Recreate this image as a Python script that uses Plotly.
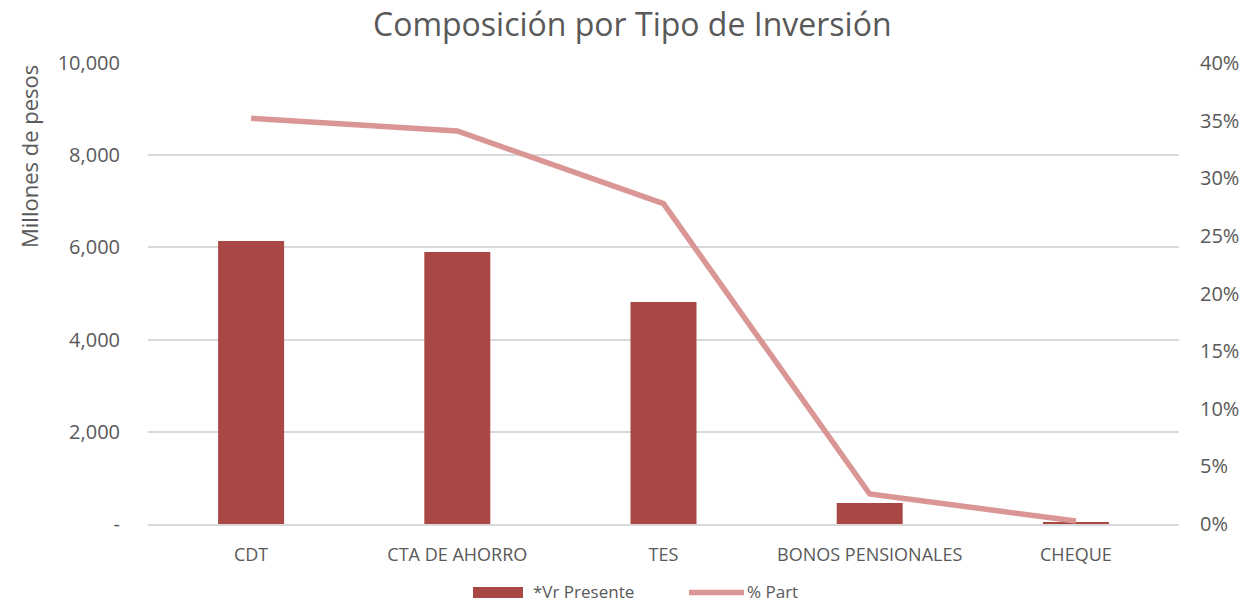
import plotly.graph_objects as go

categories = ["CDT", "CTA DE AHORRO", "TES", "BONOS PENSIONALES", "CHEQUE"]
vr_presente = [6140, 5900, 4816, 455, 45]
pct_part = [0.352, 0.341, 0.278, 0.026, 0.0026]

left_ticks = [0, 2000, 4000, 6000, 8000, 10000]
left_labels = ["-", "2,000", "4,000", "6,000", "8,000", "10,000"]
right_ticks = [0, 0.05, 0.10, 0.15, 0.20, 0.25, 0.30, 0.35, 0.40]

FONT = "Open Sans"
GRAY = "#595959"
BAR_COLOR = "#A84743"
LINE_COLOR = "#D99694"
W, H = 1252, 602
PL, PR, PT, PB = 148, 1179, 63, 524


def fx(p):
    return (p - PL) / (PR - PL)


def fy(p):
    return (PB - p) / (PB - PT)


fig = go.Figure()
fig.add_trace(go.Bar(
    x=categories, y=vr_presente, name="*Vr Presente",
    marker=dict(color=BAR_COLOR, line=dict(width=0)),
    width=0.32, yaxis="y", showlegend=False,
))
fig.add_trace(go.Scatter(
    x=categories, y=pct_part, name="% Part", mode="lines",
    line=dict(color=LINE_COLOR, width=5.5), yaxis="y2", showlegend=False,
))

# custom legend drawn in paper coordinates
shapes = [
    dict(type="rect", xref="paper", yref="paper", layer="above",
         x0=fx(473), x1=fx(523), y0=fy(598), y1=fy(587),
         fillcolor=BAR_COLOR, line=dict(width=0)),
    dict(type="line", xref="paper", yref="paper", layer="above",
         x0=fx(689), x1=fx(744), y0=fy(592.5), y1=fy(592.5),
         line=dict(color=LINE_COLOR, width=5.5)),
]
annotations = [
    dict(text="*Vr Presente", xref="paper", yref="paper", showarrow=False,
         x=fx(531), y=fy(591), xanchor="left", yanchor="middle",
         font=dict(size=17, color=GRAY, family=FONT)),
    dict(text="% Part", xref="paper", yref="paper", showarrow=False,
         x=fx(745), y=fy(591), xanchor="left", yanchor="middle",
         font=dict(size=17, color=GRAY, family=FONT)),
    dict(text="Millones de pesos", xref="paper", yref="paper", showarrow=False,
         x=fx(29), y=fy(157), xanchor="center", yanchor="middle",
         textangle=-90, font=dict(size=22, color=GRAY, family=FONT)),
]

fig.update_layout(
    width=W, height=H,
    margin=dict(l=PL, r=W - PR, t=PT, b=H - PB),
    paper_bgcolor="white", plot_bgcolor="white",
    font=dict(family=FONT, color=GRAY, size=15),
    title=dict(text="Composición por Tipo de Inversión", x=0.505, xanchor="center",
               y=1 - 25 / H, yanchor="middle", font=dict(size=32, color=GRAY, family=FONT)),
    xaxis=dict(showgrid=False, showline=True, linecolor="#D9D9D9", linewidth=1.5,
               tickfont=dict(size=18, color=GRAY), ticks="", ticklabelstandoff=14),
    yaxis=dict(range=[0, 10000], tickvals=left_ticks, ticktext=left_labels,
               showgrid=True, gridcolor="#D9D9D9", gridwidth=1.5, zeroline=False,
               tickfont=dict(size=20, color=GRAY), ticklabelstandoff=27),
    yaxis2=dict(range=[0, 0.40], tickvals=right_ticks, tickformat=".0%", overlaying="y",
                side="right", showgrid=False, zeroline=False,
                tickfont=dict(size=20, color=GRAY), ticklabelstandoff=20),
    showlegend=False,
    shapes=shapes,
    annotations=annotations,
)

fig.write_html(
    "out.html",
    config={"displayModeBar": False},
    post_script="document.body.style.margin='0';document.body.style.overflow='hidden';",
)
